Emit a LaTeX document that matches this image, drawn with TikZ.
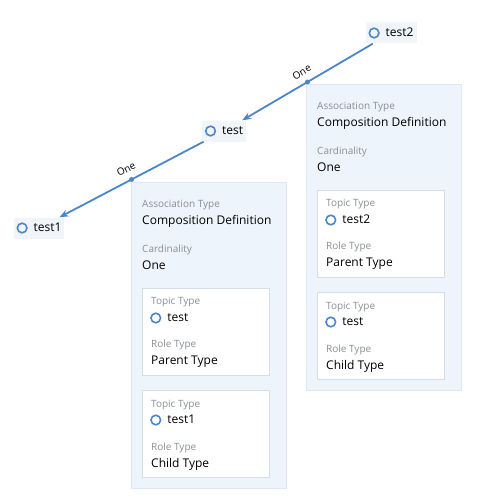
\documentclass[tikz,border=0pt]{standalone}
\usepackage{fontspec}
\setmainfont{Open Sans}
\usetikzlibrary{arrows.meta}
\definecolor{linkblue}{HTML}{4A86C8}
\definecolor{panelbg}{HTML}{EDF4FC}
\definecolor{panelline}{HTML}{DDE8F4}
\definecolor{cardline}{HTML}{D7DDE5}
\definecolor{labelgray}{HTML}{8A8F96}
\definecolor{topicbg}{HTML}{F1F4F8}
\newcommand{\ticon}{\tikz[baseline=-3.8pt]\draw[linkblue,line width=1.6pt] (0,0) circle[radius=4.8pt];}
\begin{document}
\begin{tikzpicture}[x=1pt, y=-1pt, every node/.style={font=\fontsize{12}{14}\selectfont},
  topic/.style={fill=topicbg,inner sep=3pt,minimum height=21pt},
  panel/.style={draw=panelline,fill=panelbg,anchor=north west,minimum width=155pt,minimum height=306pt},
  card/.style={draw=cardline,fill=white,anchor=north west,minimum width=127pt,minimum height=87pt},
  key/.style={anchor=west,inner sep=0pt,text=labelgray,font=\fontsize{10}{12}\selectfont},
  val/.style={anchor=west,inner sep=0pt},
  link/.style={-{Stealth[length=9pt,width=7pt]},line width=1.8pt,linkblue},
  card label/.style={text=black,inner sep=0pt,font=\fontsize{10}{12}\selectfont}]
  \useasboundingbox (0,0) rectangle (480,500);
  % topics
  \node[topic] (test2) at (391,33) {\ticon\hspace{6pt}test2};
  \node[topic] (test) at (224,131) {\ticon\hspace{6pt}test};
  \node[topic] (test1) at (39,228) {\ticon\hspace{6pt}test1};
  % association panels
  \foreach \px/\py/\pn/\up/\down in {306/84/a/test2/test, 131/182/b/test/test1} {
    \node[panel] (\pn) at (\px,\py) {};
    \node[key] (\pn-ak) at (\px+11,\py+23) {Association Type};
    \node[val] (\pn-av) at (\px+11,\py+39) {Composition Definition};
    \node[key] (\pn-ck) at (\px+11,\py+68) {Cardinality};
    \node[val] (\pn-cv) at (\px+11,\py+83) {One};
    \node[card] (\pn-up) at (\px+11,\py+106) {};
    \node[key] (\pn-upt) at (\px+20,\py+120) {Topic Type};
    \node[val] (\pn-upv) at (\px+19,\py+136) {\ticon\hspace{6pt}\up};
    \node[key] (\pn-upr) at (\px+20,\py+163) {Role Type};
    \node[val] (\pn-uprv) at (\px+20,\py+180) {Parent Type};
    \node[card] (\pn-dn) at (\px+11,\py+208) {};
    \node[key] (\pn-dnt) at (\px+20,\py+223) {Topic Type};
    \node[val] (\pn-dnv) at (\px+19,\py+238) {\ticon\hspace{6pt}\down};
    \node[key] (\pn-dnr) at (\px+20,\py+266) {Role Type};
    \node[val] (\pn-dnrv) at (\px+20,\py+282) {Child Type};
  }
  % compositions
  \draw[link] (test2) -- (test)
    coordinate[midway] (dot1)
    node[card label,midway,sloped,above=7pt] (one1) {One};
  \draw[link] (test) -- (test1)
    coordinate[midway] (dot2)
    node[card label,midway,sloped,above=7pt] (one2) {One};
  \fill[linkblue] (dot1) circle[radius=2.5pt] (dot2) circle[radius=2.5pt];
\end{tikzpicture}
\end{document}
